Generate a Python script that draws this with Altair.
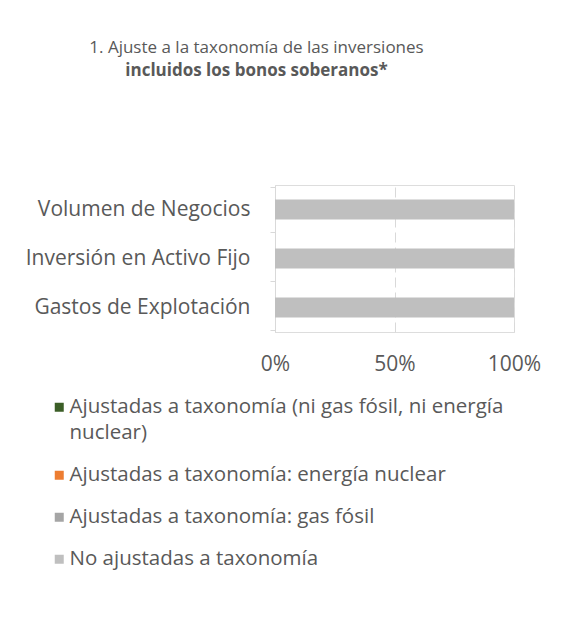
import altair as alt
import pandas as pd

categories = ["Volumen de Negocios", "Inversión en Activo Fijo", "Gastos de Explotación"]
series = [
    "Ajustadas a taxonomía (ni gas fósil, ni energía nuclear)",
    "Ajustadas a taxonomía: energía nuclear",
    "Ajustadas a taxonomía: gas fósil",
    "No ajustadas a taxonomía",
]
colors = ["#3B5E27", "#ED7D31", "#A5A5A5", "#BFBFBF"]
# percentage of each series for each category (rows = categories, cols = series)
values = [
    [0, 0, 0, 100],
    [0, 0, 0, 100],
    [0, 0, 0, 100],
]

rows = []
for ci, cat in enumerate(categories):
    for si, s in enumerate(series):
        rows.append({"cat": cat, "serie": s, "order": si, "value": values[ci][si] / 100})
df = pd.DataFrame(rows)

FONT = "Open Sans"
TXT = "#595959"

label_expr = (
    "datum.label == 'Ajustadas a taxonomía (ni gas fósil, ni energía nuclear)' ? "
    "['Ajustadas a taxonomía (ni gas fósil, ni energía', 'nuclear)'] : datum.label"
)

chart = (
    alt.Chart(df)
    .mark_bar(size=20)
    .encode(
        y=alt.Y(
            "cat:N",
            sort=categories,
            title=None,
            axis=alt.Axis(
                domainColor="#D9D9D9",
                tickColor="#D9D9D9",
                tickSize=5,
                tickBand="extent",
                labelFontSize=21,
                labelColor=TXT,
                labelFont=FONT,
                labelPadding=20,
                labelLimit=300,
            ),
        ),
        x=alt.X(
            "value:Q",
            stack="zero",
            title=None,
            scale=alt.Scale(domain=[0, 1]),
            axis=alt.Axis(
                format="%",
                values=[0, 0.5, 1],
                domain=False,
                ticks=False,
                grid=True,
                gridColor="#D9D9D9",
                gridDash=[10, 5],
                labelFontSize=21,
                labelColor=TXT,
                labelFont=FONT,
                labelPadding=21,
                labelFlush=False,
            ),
        ),
        color=alt.Color(
            "serie:N",
            scale=alt.Scale(domain=series, range=colors),
            legend=alt.Legend(
                title=None,
                orient="none",
                legendX=-226,
                legendY=212,
                padding=0,
                symbolType="square",
                symbolSize=81,
                symbolStrokeWidth=0,
                labelFontSize=20.5,
                labelColor=TXT,
                labelFont=FONT,
                labelOffset=0,
                labelLimit=520,
                rowPadding=21,
                labelExpr=label_expr,
            ),
        ),
        order=alt.Order("order:Q"),
    )
    .properties(
        width=239,
        height=147,
        title=alt.TitleParams(
            text="1. Ajuste a la taxonomía de las inversiones",
            subtitle="incluidos los bonos soberanos*",
            font=FONT,
            fontSize=17,
            fontWeight="normal",
            color=TXT,
            subtitleFont=FONT,
            subtitleFontSize=17,
            subtitleFontWeight="bold",
            subtitleColor=TXT,
            subtitlePadding=6,
            anchor="middle",
            dx=-138,
            offset=94,
        ),
        autosize=alt.AutoSizeParams(type="none"),
        padding={"left": 267, "top": 177, "right": 42, "bottom": 285},
    )
    .configure_view(stroke=None)
    .configure(background="white", style={"guide-label": {"lineHeight": 26}})
)

chart.save("out.html", embed_options={"renderer": "svg", "actions": False})
